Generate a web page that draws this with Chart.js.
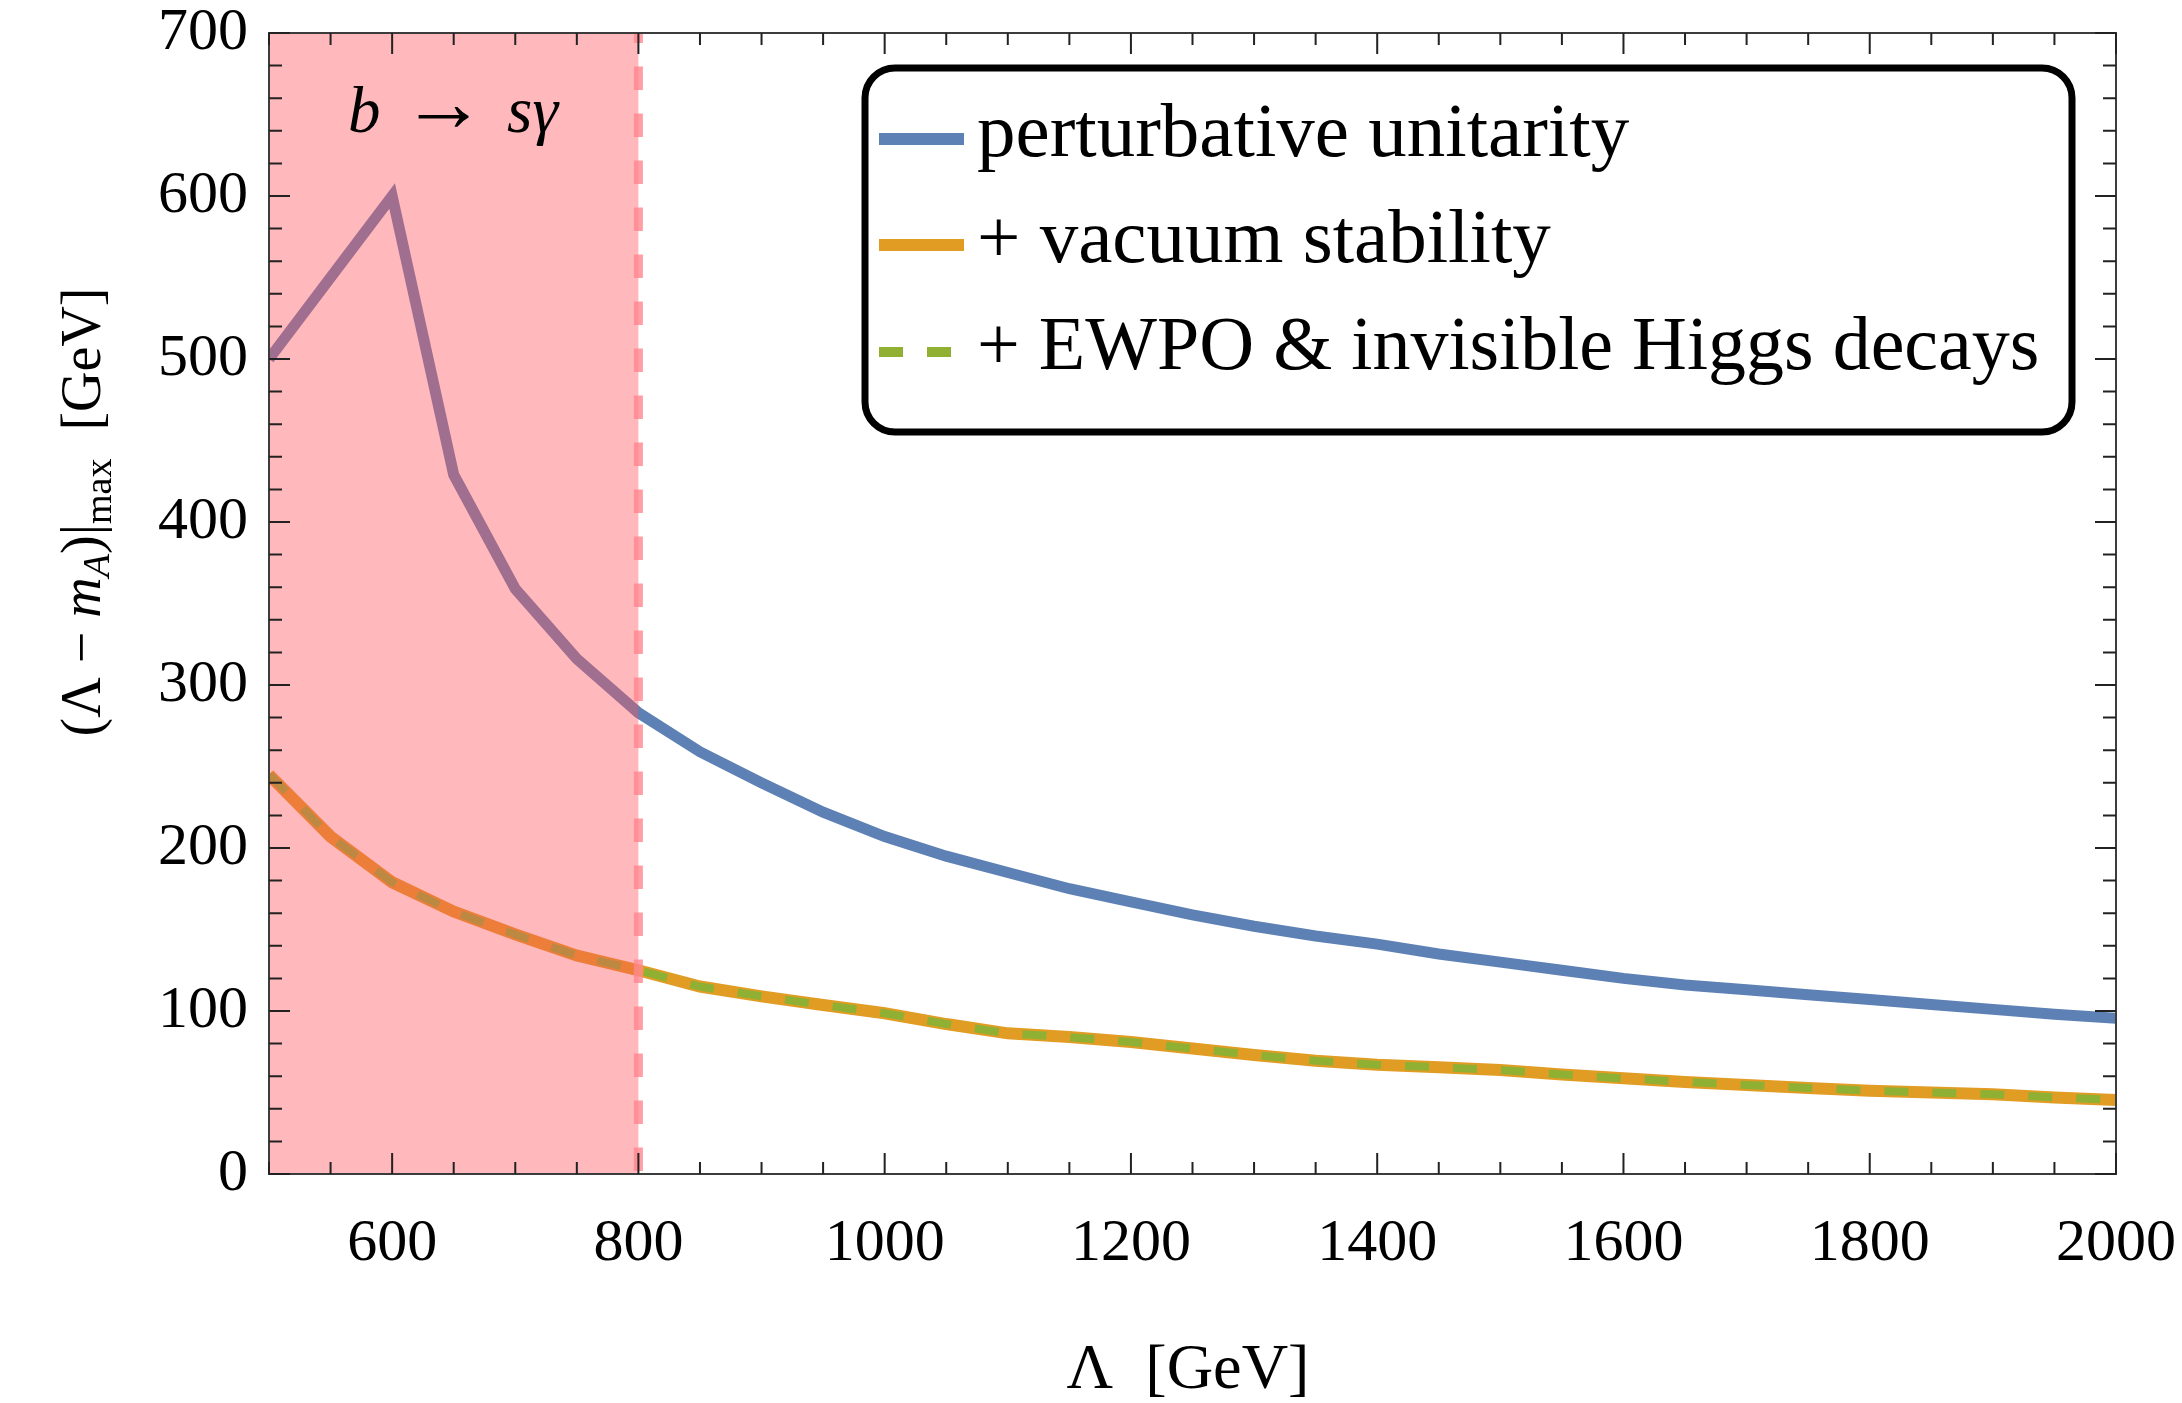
<!DOCTYPE html>
<html>
<head>
<meta charset="utf-8">
<script src="https://cdn.jsdelivr.net/npm/chart.js@4.4.1/dist/chart.umd.min.js"></script>
<style>
html, body { margin: 0; padding: 0; background: #fff; }
#wrap { width: 2182px; height: 1403px; }
</style>
</head>
<body>
<div id="wrap"><canvas id="MassChart"></canvas></div>
<script>
// Lambda [GeV] sampled every 50 GeV
const lambdaValues = [500, 550, 600, 650, 700, 750, 800, 850, 900, 950, 1000, 1050, 1100, 1150, 1200, 1250,
    1300, 1350, 1400, 1450, 1500, 1550, 1600, 1650, 1700, 1750, 1800, 1850, 1900, 1950, 2000];
const unitarityValues = [500, 550, 600, 429, 359, 316, 283, 259, 240, 222, 207, 195, 185, 175, 167, 159,
    152, 146, 141, 135, 130, 125, 120, 116, 113, 110, 107, 104, 101, 98, 95.5];
const vacuumValues = [245, 207, 179, 161, 147, 134, 125, 115, 109, 103.7, 98.6, 92, 86.3, 84, 81, 77,
    73, 69.5, 67, 65.5, 63.8, 61, 58.7, 56.5, 54.6, 52.8, 51.1, 50, 48.9, 47, 45.4];
const ewpoValues = [245, 207, 179, 161, 147, 134, 125, 115, 109, 103.7, 98.6, 92, 86.3, 84, 81, 77,
    73, 69.5, 67, 65.5, 63.8, 61, 58.7, 56.5, 54.6, 52.8, 51.1, 50, 48.9, 47, 45.4];
const seriesLabels = ["perturbative unitarity", "+ vacuum stability", "+ EWPO & invisible Higgs decays"];
const xTickValues = [600, 800, 1000, 1200, 1400, 1600, 1800, 2000];
const yTickValues = [0, 100, 200, 300, 400, 500, 600, 700];
const bsgRegion = [500, 800];

const SERIF = '"Liberation Serif", "DejaVu Serif", serif';

function toPoints(values) {
    return lambdaValues.map((x, i) => ({ x: x, y: values[i] }));
}

// text made of pieces: [text, italic, sizeFactor, baselineShift]
function fontOf(p, size) {
    return (p[1] ? "italic " : "") + (size * p[2]).toFixed(1) + "px " + SERIF;
}
function richWidth(ctx, parts, size) {
    let w = 0;
    parts.forEach(p => { ctx.font = fontOf(p, size); w += ctx.measureText(p[0]).width; });
    return w;
}
function drawRich(ctx, parts, size, x, baseY, centered) {
    if (centered) x -= richWidth(ctx, parts, size) / 2;
    ctx.textAlign = "left";
    ctx.textBaseline = "alphabetic";
    parts.forEach(p => {
        ctx.font = fontOf(p, size);
        ctx.fillText(p[0], x, baseY + p[3] * size);
        x += ctx.measureText(p[0]).width;
    });
}
function fitSize(ctx, parts, target) {
    return 100 * target / richWidth(ctx, parts, 100);
}

const FramePlugin = {
    id: "frame",
    afterDatasetsDraw(chart) {
        const ctx = chart.ctx;
        const area = chart.chartArea;
        const xs = chart.scales.x;
        const ys = chart.scales.y;

        // b -> s gamma excluded band, drawn over the curves
        ctx.save();
        const left = xs.getPixelForValue(bsgRegion[0]);
        const right = xs.getPixelForValue(bsgRegion[1]);
        ctx.fillStyle = "rgba(255, 82, 89, 0.41)";
        ctx.fillRect(left, area.top, right - left, area.bottom - area.top);
        ctx.strokeStyle = "rgba(255, 135, 142, 0.8)";
        ctx.lineWidth = 9;
        ctx.setLineDash([23.5, 23.5]);
        ctx.lineDashOffset = 44;
        ctx.beginPath();
        ctx.moveTo(right, area.bottom);
        ctx.lineTo(right, area.top);
        ctx.stroke();
        ctx.restore();

        // frame
        ctx.save();
        ctx.strokeStyle = "#3c3c3c";
        ctx.lineWidth = 2;
        ctx.strokeRect(area.left, area.top, area.right - area.left, area.bottom - area.top);

        // inward ticks on all four sides
        ctx.strokeStyle = "#222";
        ctx.lineWidth = 2;
        ctx.beginPath();
        for (let v = 500; v <= 2000; v += 50) {
            const px = xs.getPixelForValue(v);
            const len = v % 200 === 0 ? 21 : 12;
            ctx.moveTo(px, area.bottom); ctx.lineTo(px, area.bottom - len);
            ctx.moveTo(px, area.top); ctx.lineTo(px, area.top + len);
        }
        for (let v = 0; v <= 700; v += 20) {
            const py = ys.getPixelForValue(v);
            const len = v % 100 === 0 ? 21 : 13;
            ctx.moveTo(area.left, py); ctx.lineTo(area.left + len, py);
            ctx.moveTo(area.right, py); ctx.lineTo(area.right - len, py);
        }
        ctx.stroke();
        ctx.restore();
    },
    afterDraw(chart) {
        const ctx = chart.ctx;
        ctx.save();
        ctx.fillStyle = "#000";

        // region label
        const bsgParts = [["b", true, 1, 0], [" \u2192 ", false, 1.3, -0.02], ["s\u03b3", true, 1, 0]];
        drawRich(ctx, bsgParts, fitSize(ctx, bsgParts, 210), 453, 132, true);

        // x title
        const xParts = [["\u039b  [GeV]", false, 1, 0]];
        drawRich(ctx, xParts, fitSize(ctx, xParts, 243), 1188, 1388, true);

        // y title (rotated)
        const yParts = [
            ["(\u039b \u2212 ", false, 1, 0],
            ["m", true, 1, 0],
            ["A", true, 0.68, 0.16],
            [")|", false, 1, 0],
            ["max", false, 0.68, 0.2],
            ["  [GeV]", false, 1, 0]
        ];
        ctx.save();
        ctx.translate(100, 512);
        ctx.rotate(-Math.PI / 2);
        drawRich(ctx, yParts, fitSize(ctx, yParts, 449), 0, 0, true);
        ctx.restore();

        // legend box
        const box = { x: 865, y: 68, w: 1207, h: 364, r: 30 };
        ctx.fillStyle = "#fff";
        ctx.strokeStyle = "#000";
        ctx.lineWidth = 7;
        ctx.beginPath();
        ctx.roundRect(box.x, box.y, box.w, box.h, box.r);
        ctx.fill();
        ctx.stroke();

        const rowY = [139, 245, 352];
        const rowTextWidth = [668, 581, 1062];
        chart.data.datasets.forEach((ds, i) => {
            const y = rowY[i];
            ctx.save();
            ctx.strokeStyle = ds.borderColor;
            ctx.lineWidth = ds.legendWidth;
            ctx.setLineDash(ds.borderDash || []);
            ctx.beginPath();
            ctx.moveTo(879, y);
            ctx.lineTo(964, y);
            ctx.stroke();
            ctx.restore();
            ctx.fillStyle = "#000";
            const parts = [[ds.label, false, 1, 0]];
            drawRich(ctx, parts, Math.min(77, fitSize(ctx, parts, rowTextWidth[i])), 977, y + 17, false);
        });
        ctx.restore();
    }
};

const ctxEl = document.getElementById("MassChart").getContext("2d");
const MassChart = new Chart(ctxEl, {
    type: "line",
    data: {
        datasets: [{
            label: seriesLabels[0],
            data: toPoints(unitarityValues),
            borderColor: "#5e81b5",
            borderWidth: 11,
            legendWidth: 12,
            borderJoinStyle: "miter",
            order: 3
        }, {
            label: seriesLabels[1],
            data: toPoints(vacuumValues),
            borderColor: "#e19c24",
            borderWidth: 12,
            legendWidth: 12,
            order: 2
        }, {
            label: seriesLabels[2],
            data: toPoints(ewpoValues),
            borderColor: "#8fb032",
            borderWidth: 8,
            legendWidth: 10,
            borderDash: [24, 24],
            order: 1
        }]
    },
    options: {
        responsive: true,
        maintainAspectRatio: false,
        animation: false,
        events: [],
        elements: {
            point: { radius: 0 },
            line: { tension: 0, fill: false, borderCapStyle: "butt" }
        },
        layout: { padding: { top: 33, right: 66, left: 0, bottom: 0 } },
        plugins: {
            legend: { display: false },
            tooltip: { enabled: false }
        },
        scales: {
            x: {
                type: "linear",
                min: 500,
                max: 2000,
                afterBuildTicks: s => { s.ticks = xTickValues.map(v => ({ value: v })); },
                afterFit: s => { s.height = 229; s.paddingLeft = 0; s.paddingRight = 0; },
                grid: { display: false, drawTicks: false },
                border: { display: false },
                ticks: {
                    color: "#000",
                    font: { family: SERIF, size: 60 },
                    padding: 34,
                    maxRotation: 0,
                    autoSkip: false,
                    callback: v => String(v)
                }
            },
            y: {
                type: "linear",
                min: 0,
                max: 700,
                afterBuildTicks: s => { s.ticks = yTickValues.map(v => ({ value: v })); },
                afterFit: s => { s.width = 269; s.paddingTop = 0; s.paddingBottom = 0; },
                grid: { display: false, drawTicks: false },
                border: { display: false },
                ticks: {
                    color: "#000",
                    font: { family: SERIF, size: 60 },
                    padding: 21,
                    autoSkip: false,
                    callback: v => String(v)
                }
            }
        }
    },
    plugins: [FramePlugin]
});
</script>
</body>
</html>
